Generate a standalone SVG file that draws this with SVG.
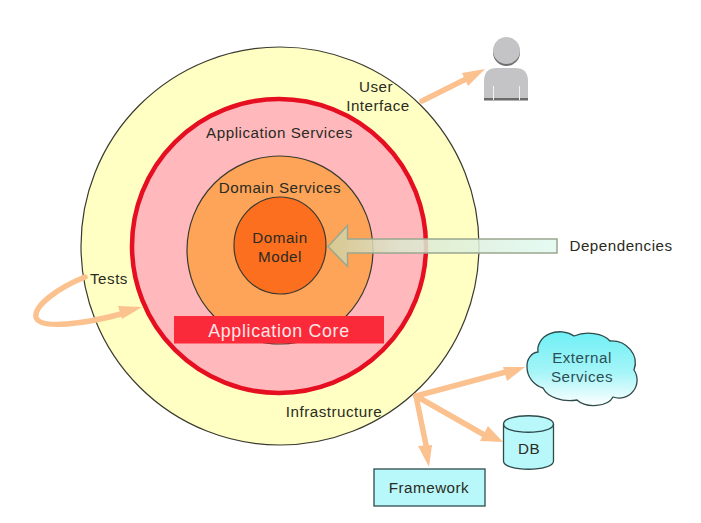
<svg xmlns="http://www.w3.org/2000/svg" width="701" height="523" viewBox="0 0 701 523">
<style>
text{font-family:"Liberation Sans",Arial,sans-serif;font-size:15.200px;letter-spacing:.5px;fill:#2b2b22;text-anchor:middle}
.ring{stroke:#3a3a30;stroke-width:1.200}
.flow{fill:none;stroke:#fbc290;stroke-width:5.500;stroke-linecap:round}
.head{fill:#fbc290}
.teal{stroke:#2e4a4a;stroke-width:1.300}
</style>
<defs>
<linearGradient id="sky" x1="0" y1="0" x2="0" y2="1"><stop offset="0" stop-color="#6ff0f5"/><stop offset="0.55" stop-color="#a5f5f8"/><stop offset="1" stop-color="#ffffff"/></linearGradient>
<linearGradient id="depFill" x1="0" y1="0" x2="1" y2="0"><stop offset="0" stop-color="#cfcf9a"/><stop offset="0.12" stop-color="#d6d6b0"/><stop offset="0.32" stop-color="#dbe8cf"/><stop offset="1" stop-color="#e0faf0"/></linearGradient>
</defs>
<rect width="701" height="523" fill="#fff"/>
<g id="infrastructure-ring"><circle class="ring" cx="280" cy="246" r="199" fill="#ffffc4"/></g>
<g id="application-services-ring"><circle cx="279" cy="246" r="147" fill="#ffb9bd" stroke="#e60f22" stroke-width="4.500"/></g>
<g id="domain-services-ring"><ellipse class="ring" cx="280" cy="250" rx="93" ry="94" fill="#fda459"/></g>
<g id="domain-model"><ellipse class="ring" cx="280" cy="245.500" rx="46" ry="48.500" fill="#fc6f1f"/>
<text x="280" y="243">Domain</text><text x="280" y="262">Model</text></g>
<g id="application-core"><rect x="174" y="316" width="210" height="27.500" fill="#fb2a3a"/>
<text x="279" y="336.500" style="font-size:17.800px;letter-spacing:.7px;fill:#ffe6e6">Application Core</text></g>
<g id="ring-labels">
<text x="279.500" y="138">Application Services</text>
<text x="280" y="192.500">Domain Services</text>
<text x="376" y="92">User</text><text x="378" y="111">Interface</text>
<text x="109" y="284">Tests</text>
<text x="334" y="417">Infrastructure</text>
</g>
<g id="user">
<circle cx="506.500" cy="52.500" r="13.500" fill="#6f6f6f"/><circle cx="506.500" cy="50.500" r="13.500" fill="#c4c4c6"/>
<path d="M484 100V81Q484 68 497 68H515Q528 68 528 81V100Z" fill="#c4c4c6"/>
<path d="M484 98H528V100.500H484Z" fill="#6a6a6a"/>
<path d="M493.500 86V100M519.500 86V100" stroke="#f2f2f2" stroke-width="1"/>
</g>
<g id="external-services">
<path class="teal" fill="url(#sky)" d="M527 367A12 14 0 0 1 538 352A22 18 0 0 1 574 336A24 14 0 0 1 610 341A24 22 0 0 1 634 370A18 18 0 0 1 613 397A20 12 0 0 1 577 400A28 18 0 0 1 543 388A22 22 0 0 1 527 367Z"/>
<text x="582" y="363" style="fill:#2b4f55">External</text><text x="582" y="382" style="fill:#2b4f55">Services</text>
</g>
<g id="db">
<path class="teal" fill="#b8f8fa" d="M503.500 424C503.500 413 553.500 413 553.500 424V461C553.500 472 503.500 472 503.500 461Z"/>
<path class="teal" fill="none" d="M503.500 424C503.500 435 553.500 435 553.500 424"/>
<text x="529" y="454">DB</text>
</g>
<g id="framework"><rect class="teal" x="374" y="469" width="111" height="37" fill="#b8f8fa"/><text x="429" y="493">Framework</text></g>
<g id="dependencies"><path d="M557 239V253H347.500V266.500L328 246.500L347.500 225.500V239Z" fill="url(#depFill)" fill-opacity="0.85" stroke="#9aa690" stroke-width="1.500"/>
<text x="621" y="251">Dependencies</text></g>
<g id="connectors">
<path class="flow" d="M422 101L470 77"/><path class="head" d="M485 69L468 86L462 73Z"/>
<path class="flow" d="M85 277C60 287 34 305 36 317C39 330 85 324 125 313"/><path class="head" d="M142 307L122 319L118 306Z"/>
<path class="flow" d="M416 396L510 371"/><path class="head" d="M525 367L507 381L503 367Z"/>
<path class="flow" d="M416 396L488 437"/><path class="head" d="M503 442L480 441L488 426Z"/>
<path class="flow" d="M416 396L427 450"/><path class="head" d="M429 467L418 446L432 445Z"/>
</g>
</svg>
